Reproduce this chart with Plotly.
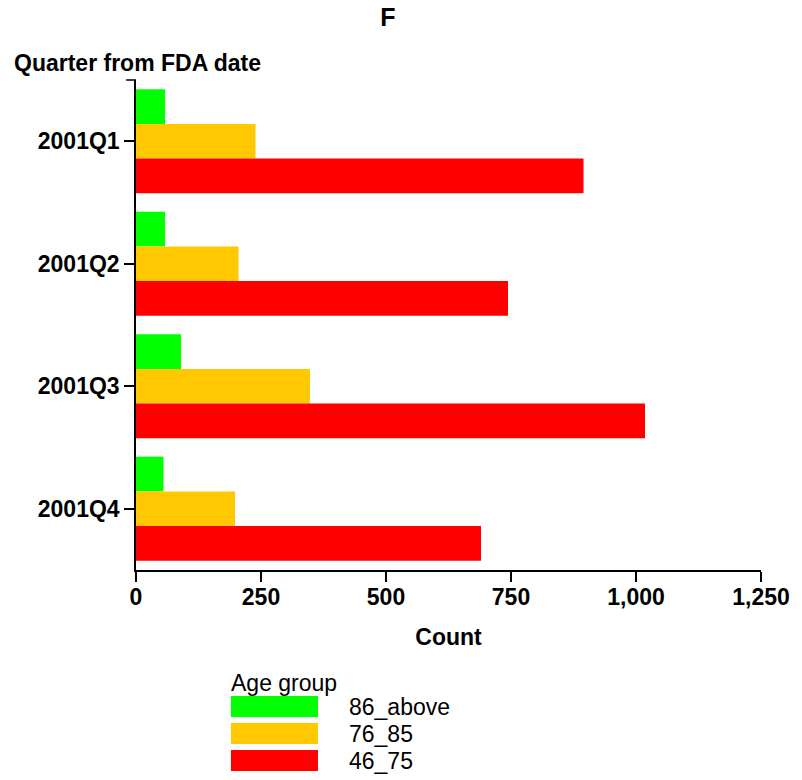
import plotly.graph_objects as go

QUARTERS = ["2001Q1", "2001Q2", "2001Q3", "2001Q4"]
AGE_GROUPS = ["86_above", "76_85", "46_75"]
COLORS = ["#00FF00", "#FFC800", "#FF0000"]

COUNT_86_ABOVE = [58, 58, 90, 55]
COUNT_76_85 = [239, 205, 348, 198]
COUNT_46_75 = [895, 744, 1018, 690]

X_TICKS = [0, 250, 500, 750, 1000, 1250]

# the page body adds an 8px margin, so the figure is drawn 8px smaller
OFF = 8
W, H = 802 - OFF, 780 - OFF
L, T = 136 - OFF, 80 - OFF
PW, PH = 632, 490
R, B = W - L - PW, H - T - PH


def px(x):
    return (x - OFF - L) / PW


def py(y):
    return 1 - (y - OFF - T) / PH


def main():
    fig = go.Figure()
    for name, color, values in zip(
        AGE_GROUPS, COLORS, [COUNT_86_ABOVE, COUNT_76_85, COUNT_46_75]
    ):
        fig.add_trace(
            go.Bar(
                y=QUARTERS,
                x=values,
                name=name,
                orientation="h",
                marker=dict(color=color, line=dict(width=0)),
                showlegend=False,
            )
        )

    bold = dict(family="Liberation Sans", size=23, color="#000000")
    plain = dict(family="Liberation Sans", size=23, color="#000000")

    fig.update_layout(
        width=W,
        height=H,
        margin=dict(l=L, r=R, t=T, b=B),
        paper_bgcolor="white",
        plot_bgcolor="white",
        barmode="group",
        bargap=0.15,
        bargroupgap=0,
        title=dict(
            text="<b>F</b>",
            font=dict(family="Liberation Sans", size=25, color="#000000"),
            x=(388 - OFF) / W,
            xanchor="center",
            yref="container",
            y=1,
            yanchor="top",
            pad=dict(t=0, b=0),
        ),
    )

    fig.update_xaxes(
        range=[0, 1250],
        tickvals=X_TICKS,
        ticktext=[f"<b>{v:,}</b>" for v in X_TICKS],
        showgrid=False,
        zeroline=False,
        showline=True,
        linecolor="#000000",
        linewidth=1.5,
        ticks="outside",
        ticklen=10,
        tickwidth=1.5,
        tickcolor="#000000",
        tickfont=bold,
        ticklabelstandoff=-4,
        title=dict(text="<b>Count</b>", font=bold, standoff=20),
    )
    fig.update_yaxes(
        range=[3.5, -0.5],
        tickvals=QUARTERS,
        ticktext=[f"<b>{q}</b>" for q in QUARTERS],
        showgrid=False,
        zeroline=False,
        showline=True,
        linecolor="#000000",
        linewidth=1.5,
        ticks="outside",
        ticklen=10,
        tickwidth=1.5,
        tickcolor="#000000",
        tickfont=bold,
    )

    # tick at the top end of the category axis
    fig.add_shape(
        type="line", xref="paper", yref="paper",
        x0=px(126), x1=0, y0=1, y1=1,
        line=dict(color="#000000", width=1.5),
    )

    fig.add_annotation(
        text="<b>Quarter from FDA date</b>",
        xref="paper", yref="paper",
        x=px(11), y=py(63),
        xanchor="left", yanchor="middle",
        showarrow=False, font=bold,
    )

    # legend block
    fig.add_annotation(
        text="Age group",
        xref="paper", yref="paper",
        x=px(230), y=py(683),
        xanchor="left", yanchor="middle",
        showarrow=False, font=plain,
    )
    swatch_tops = [696, 723, 750]
    for name, color, top in zip(AGE_GROUPS, COLORS, swatch_tops):
        fig.add_shape(
            type="rect", xref="paper", yref="paper",
            x0=px(232), x1=px(320), y0=py(top), y1=py(top + 21),
            fillcolor=color, line=dict(width=0),
        )
        fig.add_annotation(
            text=name,
            xref="paper", yref="paper",
            x=px(349), y=py(top + 10.5),
            xanchor="left", yanchor="middle",
            showarrow=False, font=plain,
        )

    fig.write_html("out.html")


if __name__ == "__main__":
    main()
